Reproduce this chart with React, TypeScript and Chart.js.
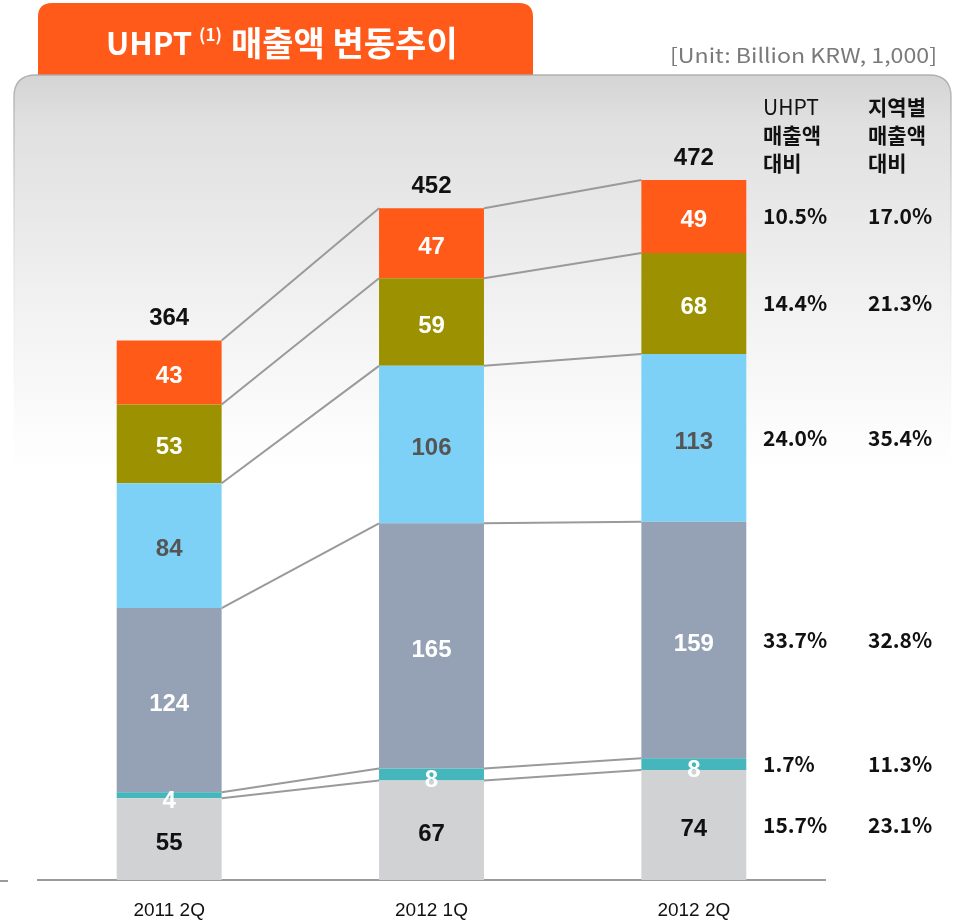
import React, { useEffect, useRef } from 'react';
import { Chart, registerables } from 'chart.js';

Chart.register(...registerables);

// ---------- data ----------
const categories = ['2011 2Q', '2012 1Q', '2012 2Q'];
const seriesNames = ['Series 1', 'Series 2', 'Series 3', 'Series 4', 'Series 5', 'Series 6'];
const series1 = [55, 67, 74];
const series2 = [4, 8, 8];
const series3 = [124, 165, 159];
const series4 = [84, 106, 113];
const series5 = [53, 59, 68];
const series6 = [43, 47, 49];
const totals = [364, 452, 472];
// bottom -> top, aligned with series1..series6
const uhptShare = ['15.7%', '1.7%', '33.7%', '24.0%', '14.4%', '10.5%'];
const regionShare = ['23.1%', '11.3%', '32.8%', '35.4%', '21.3%', '17.0%'];
const uhptHeader = ['UHPT', '매출액', '대비'];
const regionHeader = ['지역별', '매출액', '대비'];
const titleMain = 'UHPT';
const titleNote = '(1)';
const titleRest = '매출액 변동추이';
const unitText = '[Unit: Billion KRW, 1,000]';

const seriesColors = ['#D1D2D4', '#45B6BB', '#95A2B5', '#7DD1F6', '#9C9100', '#FF5A18'];
const labelColors = ['#111111', '#FFFFFF', '#FFFFFF', '#555555', '#FFFFFF', '#FFFFFF'];

const KR = '"Noto Sans CJK KR", "Noto Sans", sans-serif';
const AR = '"Liberation Sans", Arial, sans-serif';

function roundRectPath(ctx: CanvasRenderingContext2D, x: number, y: number, w: number, h: number, r: number) {
  ctx.beginPath();
  ctx.moveTo(x + r, y);
  ctx.lineTo(x + w - r, y);
  ctx.quadraticCurveTo(x + w, y, x + w, y + r);
  ctx.lineTo(x + w, y + h);
  ctx.lineTo(x, y + h);
  ctx.lineTo(x, y + r);
  ctx.quadraticCurveTo(x, y, x + r, y);
  ctx.closePath();
}

const decorPlugin = {
  id: 'decor',
  beforeDraw(chart: any) {
    const ctx: CanvasRenderingContext2D = chart.ctx;
    const W = chart.width;
    const H = chart.height;
    ctx.save();
    ctx.fillStyle = '#FFFFFF';
    ctx.fillRect(0, 0, W, H);

    // title tab
    ctx.fillStyle = '#FF5A1A';
    roundRectPath(ctx, 38, 3, 495, 80, 14);
    ctx.fill();

    // panel
    const g = ctx.createLinearGradient(0, 75, 0, 470);
    g.addColorStop(0, '#D4D4D4');
    g.addColorStop(0.12, '#E0E0E0');
    g.addColorStop(0.6, '#F2F2F2');
    g.addColorStop(1, '#FFFFFF');
    ctx.fillStyle = g;
    roundRectPath(ctx, 14, 75, 937, 860, 22);
    ctx.fill();
    const sg = ctx.createLinearGradient(0, 75, 0, 460);
    sg.addColorStop(0, 'rgba(170,170,170,0.9)');
    sg.addColorStop(1, 'rgba(255,255,255,0)');
    ctx.strokeStyle = sg;
    ctx.lineWidth = 1.5;
    roundRectPath(ctx, 14, 75, 937, 860, 22);
    ctx.stroke();

    // title text
    ctx.fillStyle = '#FFFFFF';
    ctx.textBaseline = 'alphabetic';
    ctx.textAlign = 'left';
    let x = 106;
    ctx.font = `bold 31px ${KR}`;
    ctx.fillText(titleMain, x, 55);
    x += ctx.measureText(titleMain).width + 7;
    ctx.font = `bold 17px ${KR}`;
    ctx.fillText(titleNote, x, 41);
    x += ctx.measureText(titleNote).width + 9;
    ctx.font = `bold 34px ${KR}`;
    ctx.fillText(titleRest, x, 56);

    // unit text
    ctx.font = `20px ${KR}`;
    ctx.fillStyle = '#7A7A7A';
    const uw = ctx.measureText(unitText).width;
    const target = 267;
    ctx.save();
    ctx.translate(670, 63);
    ctx.scale(target / uw, 1);
    ctx.fillText(unitText, 0, 0);
    ctx.restore();

    // small left tick
    ctx.strokeStyle = '#9A9A9A';
    ctx.lineWidth = 2;
    ctx.beginPath();
    ctx.moveTo(0, 881);
    ctx.lineTo(8, 881);
    ctx.stroke();
    ctx.restore();
  },
  beforeDatasetsDraw(chart: any) {
    const ctx: CanvasRenderingContext2D = chart.ctx;
    const n = chart.data.datasets.length;
    ctx.save();
    ctx.strokeStyle = '#9A9A9A';
    ctx.lineWidth = 2;
    for (let k = 0; k < n; k++) {
      const meta = chart.getDatasetMeta(k);
      for (let i = 0; i < meta.data.length - 1; i++) {
        const a = meta.data[i];
        const b = meta.data[i + 1];
        ctx.beginPath();
        ctx.moveTo(a.x + a.width / 2, a.y);
        ctx.lineTo(b.x - b.width / 2, b.y);
        ctx.stroke();
      }
    }
    ctx.restore();
  },
  afterDatasetsDraw(chart: any) {
    const ctx: CanvasRenderingContext2D = chart.ctx;
    const n = chart.data.datasets.length;
    ctx.save();
    ctx.textAlign = 'center';
    ctx.textBaseline = 'middle';
    ctx.font = `bold 24px ${AR}`;
    for (let k = 0; k < n; k++) {
      const meta = chart.getDatasetMeta(k);
      const vals = chart.data.datasets[k].data;
      meta.data.forEach((el: any, i: number) => {
        const cy = (el.y + el.base) / 2 + (vals[i] < 10 ? 6 : 4);
        ctx.fillStyle = labelColors[k];
        ctx.fillText(String(vals[i]), el.x, cy);
      });
    }
    // totals
    const top = chart.getDatasetMeta(n - 1);
    ctx.fillStyle = '#111111';
    top.data.forEach((el: any, i: number) => {
      ctx.fillText(String(totals[i]), el.x, el.y - 22);
    });

    // share columns aligned to last bar segments
    ctx.textAlign = 'left';
    ctx.font = `bold 21px ${KR}`;
    const last = chart.data.labels.length - 1;
    for (let k = 0; k < n; k++) {
      const el = chart.getDatasetMeta(k).data[last];
      const cy = (el.y + el.base) / 2;
      ctx.fillText(uhptShare[k], 763, cy);
      ctx.fillText(regionShare[k], 868, cy);
    }
    // headers
    const hy = [107, 135, 163];
    uhptHeader.forEach((t, i) => {
      ctx.font = i === 0 ? `21px ${KR}` : `bold 21px ${KR}`;
      ctx.fillText(t, 763, hy[i]);
    });
    ctx.font = `bold 21px ${KR}`;
    regionHeader.forEach((t, i) => {
      ctx.fillText(t, 868, hy[i]);
    });
    ctx.restore();
  },
};

export default function App() {
  const ref = useRef<HTMLCanvasElement | null>(null);
  useEffect(() => {
    document.body.style.margin = '0';
    const canvas = ref.current;
    if (!canvas) return;
    const dataArrays = [series1, series2, series3, series4, series5, series6];
    const chart = new Chart(canvas, {
      type: 'bar',
      data: {
        labels: categories,
        datasets: dataArrays.map((d, k) => ({
          label: seriesNames[k],
          data: d,
          backgroundColor: seriesColors[k],
          borderWidth: 0,
          categoryPercentage: 1,
          barPercentage: 0.4,
        })),
      },
      options: {
        animation: false,
        responsive: false,
        devicePixelRatio: 1,
        layout: { padding: { left: 38, right: 130, top: 137, bottom: 2 } },
        plugins: { legend: { display: false }, tooltip: { enabled: false }, title: { display: false } },
        scales: {
          x: {
            stacked: true,
            grid: { display: false, drawTicks: false },
            border: { display: true, color: '#9A9A9A', width: 2 },
            ticks: { color: '#111111', font: { family: AR, size: 19 }, padding: 19 },
            afterFit: (scale: any) => {
              scale.height = 41;
            },
          },
          y: {
            stacked: true,
            display: false,
            min: 0,
            max: 500,
          },
        },
      },
      plugins: [decorPlugin],
    });
    return () => chart.destroy();
  }, []);
  return (
    <div style={{ position: 'relative', width: 955, height: 923 }}>
      <canvas ref={ref} width={955} height={923} style={{ display: 'block' }} />
    </div>
  );
}
